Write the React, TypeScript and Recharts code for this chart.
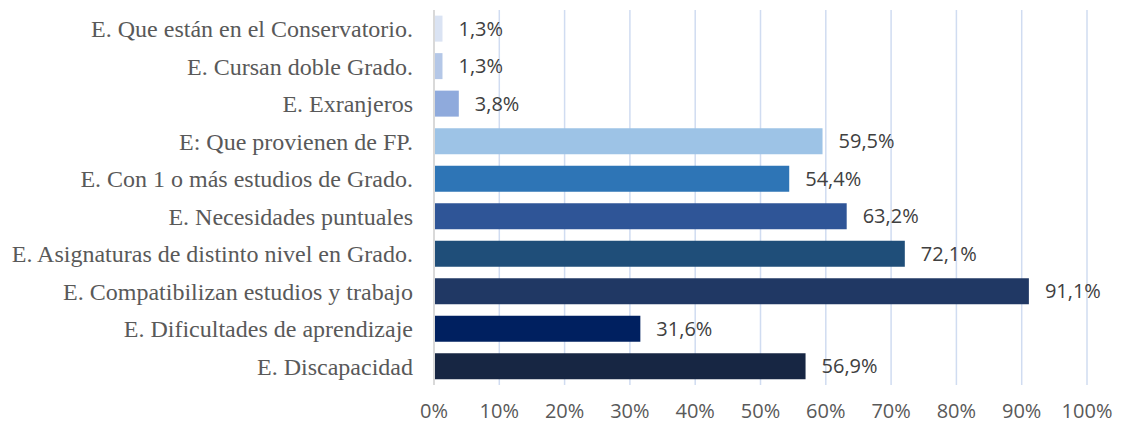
import React from "react";
import { BarChart, Bar, XAxis, YAxis, CartesianGrid, Cell, LabelList } from "recharts";

const categories = [
  "E. Que están en el Conservatorio.",
  "E. Cursan doble Grado.",
  "E. Exranjeros",
  "E: Que provienen de FP.",
  "E. Con 1 o más estudios de Grado.",
  "E. Necesidades puntuales",
  "E. Asignaturas de distinto nivel en Grado.",
  "E. Compatibilizan estudios y trabajo",
  "E. Dificultades de aprendizaje",
  "E. Discapacidad",
];
const values = [1.3, 1.3, 3.8, 59.5, 54.4, 63.2, 72.1, 91.1, 31.6, 56.9];
const colors = [
  "#dae3f3",
  "#b4c7e7",
  "#8faadc",
  "#9dc3e6",
  "#2e75b6",
  "#2f5597",
  "#1f4e79",
  "#203864",
  "#002060",
  "#172643",
];
const xTicks = [0, 10, 20, 30, 40, 50, 60, 70, 80, 90, 100];

const data = categories.map((c, i) => ({ name: c, value: values[i] }));

const fmt = (v: number) => v.toFixed(1).replace(".", ",") + "%";

export default function App() {
  return (
    <div style={{ position: "absolute", left: 0, top: 0, background: "#fff" }}>
      <BarChart
        width={1121}
        height={426}
        data={data}
        layout="vertical"
        margin={{ top: 10, right: 34, bottom: 1, left: 0 }}
        barCategoryGap="15%"
      >
        <CartesianGrid horizontal={false} stroke="#d0dcf1" strokeWidth={1.5} />
        <XAxis
          type="number"
          domain={[0, 100]}
          ticks={xTicks}
          tickFormatter={(v: number) => v + "%"}
          axisLine={false}
          tickLine={false}
          height={40}
          tickSize={6}
          tickMargin={13}
          tick={{ fill: "#595959", fontSize: 20, fontFamily: "Open Sans" }}
          interval={0}
        />
        <YAxis
          type="category"
          dataKey="name"
          width={434}
          axisLine={{ stroke: "#d9d9d9", strokeWidth: 2 }}
          tickLine={false}
          tickSize={6}
          tickMargin={15}
          interval={0}
          tick={{ fill: "#595959", fontSize: 24, fontFamily: "Liberation Serif" }}
        />
        <Bar dataKey="value" isAnimationActive={false}>
          {data.map((d, i) => (
            <Cell key={i} fill={colors[i]} />
          ))}
          <LabelList
            dataKey="value"
            position="right"
            offset={16}
            formatter={(v: any) => fmt(Number(v))}
            style={{ fill: "#404040", fontSize: 20, fontFamily: "Open Sans" }}
          />
        </Bar>
      </BarChart>
    </div>
  );
}
